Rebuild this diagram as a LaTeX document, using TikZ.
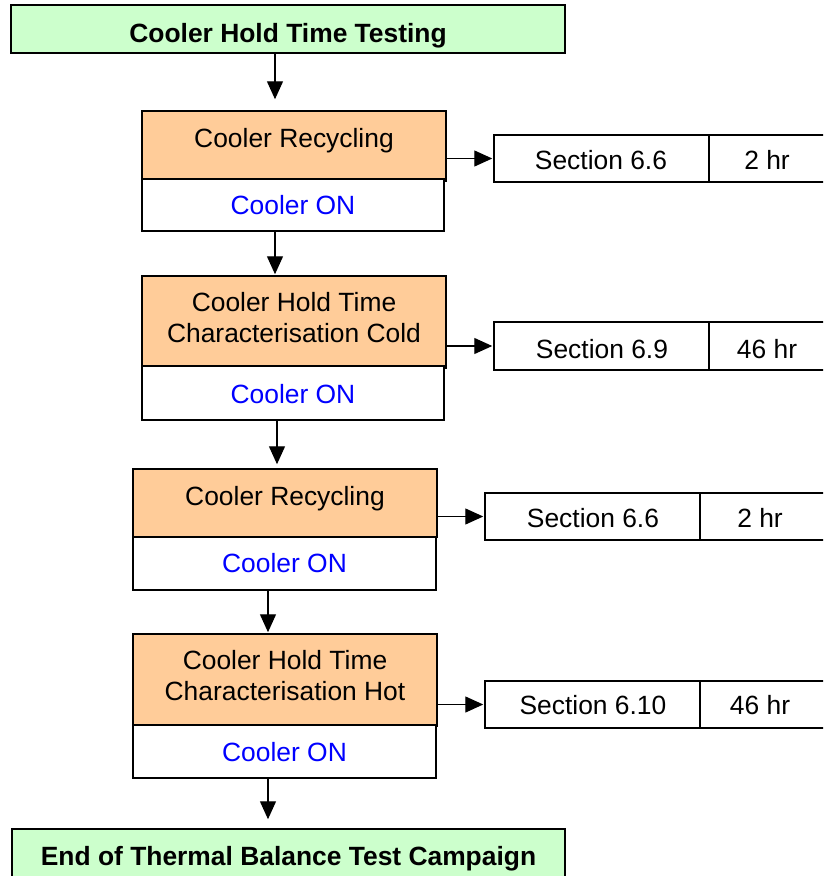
\documentclass[tikz,border=0pt]{standalone}
\usepackage{fontspec}
\setmainfont{Liberation Sans}
\usetikzlibrary{arrows.meta}
\definecolor{boxgreen}{HTML}{CCFFCC}
\definecolor{boxorange}{HTML}{FFCC99}
\definecolor{txtblue}{HTML}{0000FF}
\tikzset{
  bx/.style={draw=black, line width=1.5pt, inner sep=0pt, rectangle},
  greenbox/.style={bx, fill=boxgreen},
  orangebox/.style={bx, fill=boxorange},
  whitebox/.style={bx, fill=white},
  txt/.style={inner sep=0pt, align=center, font=\fontsize{26.4pt}{31pt}\selectfont},
  bluetxt/.style={txt, text=txtblue},
  arr/.style={line width=1.3pt, -{Triangle[length=18pt 0 0,width=16pt 0 0]}}
}
\begin{document}
\begin{tikzpicture}[x=1pt,y=-1pt]
\useasboundingbox (0,0) rectangle (823,876);
\clip (0,0) rectangle (823,876);
\fill[white] (0,0) rectangle (823,876);

% title
\node[greenbox, minimum width=554pt, minimum height=48pt] (title) at (288,29) {};
\node[txt, anchor=base] (ttitle) at (288,42.5) {\bfseries Cooler Hold Time Testing};

% block 1
\node[orangebox, minimum width=304pt, minimum height=70pt] (o1) at (294,146) {};
\node[whitebox, minimum width=302pt, minimum height=52pt] (w1) at (293,205) {};
\node[txt, anchor=base] (to1) at (294,147) {Cooler Recycling};
\node[bluetxt, anchor=base] (tw1) at (293,214) {Cooler ON};
\node[whitebox, minimum width=215pt, minimum height=47pt] (s1) at (601.5,158.5) {};
\node[whitebox, minimum width=118pt, minimum height=47pt] (h1) at (768,158.5) {};
\node[txt, anchor=base] (ts1) at (601,169) {Section 6.6};
\node[txt, anchor=base] (th1) at (767,169) {2 hr};

% block 2
\node[orangebox, minimum width=304pt, minimum height=92pt] (o2) at (294,322) {};
\node[whitebox, minimum width=302pt, minimum height=54pt] (w2) at (293,393) {};
\node[txt] (to2) at (294,317.5) {Cooler Hold Time\\Characterisation Cold};
\node[bluetxt, anchor=base] (tw2) at (293,403) {Cooler ON};
\node[whitebox, minimum width=215pt, minimum height=48pt] (s2) at (601.5,346) {};
\node[whitebox, minimum width=118pt, minimum height=48pt] (h2) at (768,346) {};
\node[txt, anchor=base] (ts2) at (602,358) {Section 6.9};
\node[txt, anchor=base] (th2) at (767,358) {46 hr};

% block 3
\node[orangebox, minimum width=304pt, minimum height=68pt] (o3) at (285,503) {};
\node[whitebox, minimum width=303pt, minimum height=53pt] (w3) at (284.5,563.5) {};
\node[txt, anchor=base] (to3) at (285,505) {Cooler Recycling};
\node[bluetxt, anchor=base] (tw3) at (284.5,572) {Cooler ON};
\node[whitebox, minimum width=215pt, minimum height=47pt] (s3) at (592.5,516.5) {};
\node[whitebox, minimum width=130pt, minimum height=47pt] (h3) at (765,516.5) {};
\node[txt, anchor=base] (ts3) at (593,527) {Section 6.6};
\node[txt, anchor=base] (th3) at (760,527) {2 hr};

% block 4
\node[orangebox, minimum width=304pt, minimum height=92pt] (o4) at (285,680) {};
\node[whitebox, minimum width=303pt, minimum height=53pt] (w4) at (284.5,751.5) {};
\node[txt] (to4) at (285,675.5) {Cooler Hold Time\\Characterisation Hot};
\node[bluetxt, anchor=base] (tw4) at (284.5,761) {Cooler ON};
\node[whitebox, minimum width=215pt, minimum height=47pt] (s4) at (592.5,704.5) {};
\node[whitebox, minimum width=130pt, minimum height=47pt] (h4) at (765,704.5) {};
\node[txt, anchor=base] (ts4) at (593,714) {Section 6.10};
\node[txt, anchor=base] (th4) at (760,714) {46 hr};

% end
\node[greenbox, minimum width=553pt, minimum height=60pt] (fin) at (288.5,859) {};
\node[txt, anchor=base] (tfin) at (288.5,865) {\bfseries End of Thermal Balance Test Campaign};

% vertical arrows
\draw[arr, shorten >=11pt] ([xshift=-13pt]title.south) -- ([xshift=-19pt]o1.north);
\draw[arr, shorten >=1pt] ([xshift=-18pt]w1.south) -- ([xshift=-19pt]o2.north);
\draw[arr, shorten >=4pt] ([xshift=-16pt]w2.south) -- ([xshift=-8pt]o3.north);
\draw[arr, shorten >=1pt] ([xshift=-16.5pt]w3.south) -- ([xshift=-17pt]o4.north);
\draw[arr, shorten >=9pt] ([xshift=-16.5pt]w4.south) -- ([xshift=-20.5pt]fin.north);

% horizontal arrows
\draw[arr, shorten >=1pt] (o1.east |- s1.west) -- (s1.west);
\draw[arr, shorten >=1pt] (o2.east |- s2.west) -- (s2.west);
\draw[arr, shorten >=1pt] (o3.east |- s3.west) -- (s3.west);
\draw[arr, shorten >=1pt] (o4.east |- s4.west) -- (s4.west);
\end{tikzpicture}
\end{document}
